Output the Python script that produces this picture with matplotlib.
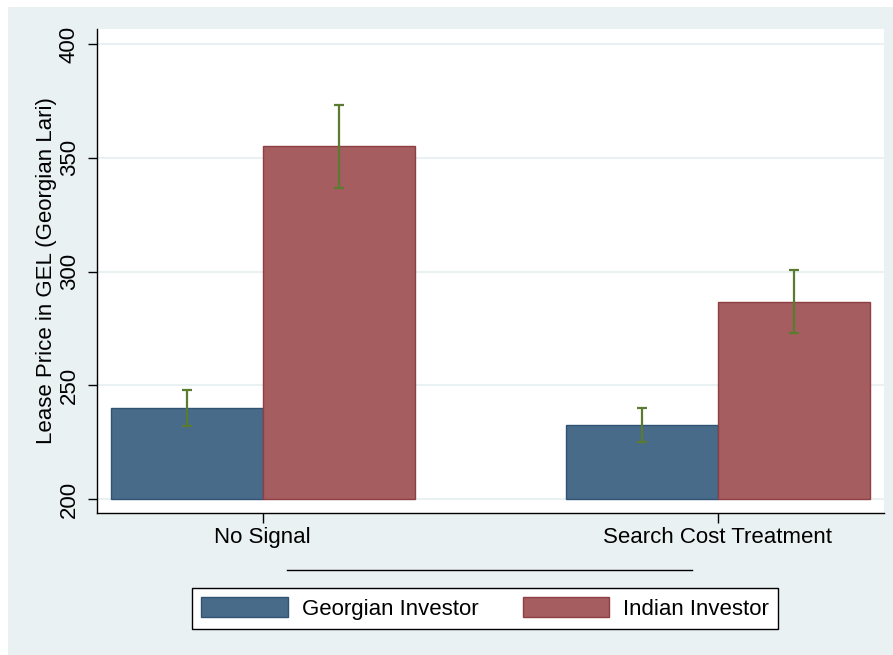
import matplotlib
matplotlib.use("Agg")
import matplotlib.pyplot as plt
from matplotlib.patches import Patch, Rectangle
from matplotlib.lines import Line2D
import numpy as np

plt.rcParams['font.family'] = ['Liberation Sans', 'DejaVu Sans']

categories = ["No Signal", "Search Cost Treatment"]
series_names = ["Georgian Investor", "Indian Investor"]
georgian_mean = [240.0, 232.5]
georgian_err = [8.0, 7.6]
indian_mean = [355.0, 286.8]
indian_err = [18.3, 13.8]
yticks = [200, 250, 300, 350, 400]

W, H = 893, 655
fig = plt.figure(figsize=(W / 100, H / 100), dpi=100, facecolor='white')
bg = '#EAF1F3'
fig.patches.append(Rectangle((8 / W, 0), (W - 8) / W, (H - 7) / H,
                             transform=fig.transFigure, facecolor=bg,
                             edgecolor='none', zorder=-10))

left, right, top, bottom = 97, 883.7, 29, 513
ax = fig.add_axes([left / W, 1 - bottom / H, (right - left) / W, (bottom - top) / H])
ax.set_facecolor('white')

x = np.arange(len(categories))
w = 0.334
base = 200
g_col, g_edge = '#486B8A', '#2F5275'
i_col, i_edge = '#A55D60', '#8F3F44'
err_col = '#5B7B30'

ax.bar(x - w / 2, np.array(georgian_mean) - base, w, bottom=base, color=g_col,
       edgecolor=g_edge, linewidth=1, zorder=2)
ax.bar(x + w / 2, np.array(indian_mean) - base, w, bottom=base, color=i_col,
       edgecolor=i_edge, linewidth=1, zorder=2)
ax.errorbar(x - w / 2, georgian_mean, yerr=georgian_err, fmt='none', ecolor=err_col,
            elinewidth=1.6, capsize=3.8, capthick=1.6, zorder=3)
ax.errorbar(x + w / 2, indian_mean, yerr=indian_err, fmt='none', ecolor=err_col,
            elinewidth=1.6, capsize=3.8, capthick=1.6, zorder=3)

ax.set_xlim(-0.364, 1.364)
ax.set_ylim(193.9, 406.6)
ax.set_yticks(yticks)
ax.set_yticklabels([str(t) for t in yticks], rotation=90, va='center', fontsize=16)
ax.set_xticks(x)
ax.set_xticklabels(categories, fontsize=16)
ax.tick_params(axis='y', length=6.5, width=1, pad=6, color='black')
ax.tick_params(axis='x', length=7, width=1, pad=3, color='black')
ax.yaxis.grid(True, color=bg, linewidth=1.5, zorder=0)
ax.set_axisbelow(True)
for s in ['top', 'right']:
    ax.spines[s].set_visible(False)
for s in ['left', 'bottom']:
    ax.spines[s].set_linewidth(1)
ax.set_ylabel("Lease Price in GEL (Georgian Lari)", fontsize=16, labelpad=1.5)

# separator line above legend
fig.add_artist(Line2D([287 / W, 692 / W], [1 - 570 / H, 1 - 570 / H],
                      transform=fig.transFigure, color='black', linewidth=1))

handles = [Patch(facecolor=g_col, edgecolor=g_edge, linewidth=1),
           Patch(facecolor=i_col, edgecolor=i_edge, linewidth=1)]
leg = fig.legend(handles, series_names, loc='center', ncol=2,
                 bbox_to_anchor=(485 / W, 1 - 608.3 / H), fontsize=16,
                 frameon=True, fancybox=False, edgecolor='black', framealpha=1,
                 handlelength=3.9, handleheight=1.05, handletextpad=0.63,
                 columnspacing=2.0, borderpad=0.42)
leg.get_frame().set_linewidth(1)

fig.savefig("out.png", dpi=100, facecolor=fig.get_facecolor())
